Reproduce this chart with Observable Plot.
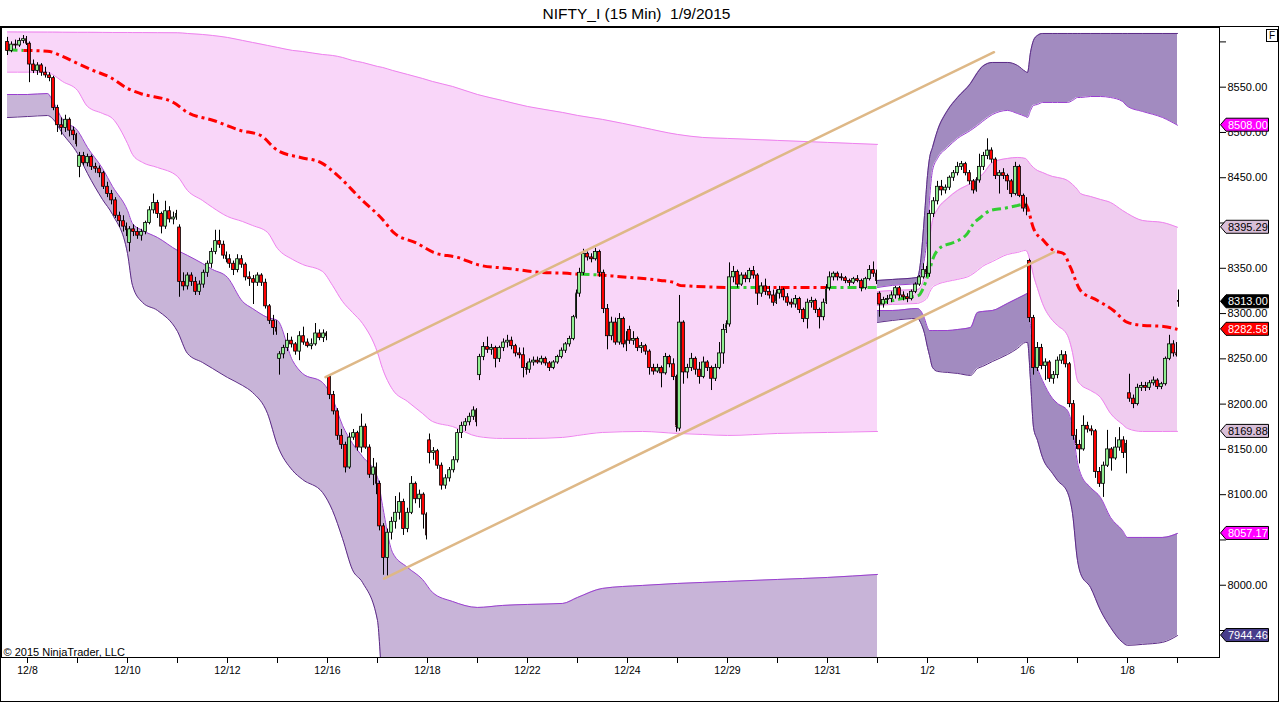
<!DOCTYPE html>
<html><head><meta charset="utf-8">
<script src="https://cdn.jsdelivr.net/npm/d3@7"></script>
<script src="https://cdn.jsdelivr.net/npm/@observablehq/plot@0.6"></script>
<style>
html,body{margin:0;padding:0;background:#fff;}
#wrap{position:relative;width:1280px;height:703px;overflow:hidden;font-family:"Liberation Sans",Arial,sans-serif;}
#chart{position:absolute;left:0;top:0;}
#title{position:absolute;top:6px;left:0;width:1273px;text-align:center;font-size:15.5px;line-height:15.5px;color:#000;white-space:pre;}
#outer{position:absolute;left:0;top:26px;width:1277px;height:674px;border:1px solid #000;pointer-events:none;}
#fbox{position:absolute;left:1266px;top:29px;width:10px;height:11px;border:1px solid #000;background:#fff;font-size:10px;line-height:11px;text-align:center;}
</style></head><body>
<div id="wrap"><div id="chart"></div><div id="outer"></div><div id="title">NIFTY_I (15 Min)  1/9/2015</div><div id="fbox">F</div></div>
<script>
// ---------- 15-min session data (shown as 30-min candles [open, high, low, close]) ----------
const c1205 = [[8600,8605,8585,8590],[8590,8600,8588,8597],[8597,8602,8592,8596],[8596,8604,8594,8601],[8601,8607,8598,8603],[8603,8606,8596,8598]];
const c1208 = [[8598,8600,8555,8575],[8575,8580,8565,8568],[8568,8577,8563,8574],[8574,8576,8562,8566],[8566,8572,8560,8563],[8563,8566,8556,8560],[8560,8562,8524,8527],[8527,8530,8500,8508],[8508,8516,8497,8505],[8505,8519,8500,8514],[8514,8516,8495,8502],[8502,8506,8491,8497],[8497,8499,8484,8487]];
const c1209 = [[8462,8478,8450,8474],[8474,8478,8463,8466],[8466,8476,8462,8473],[8473,8475,8458,8462],[8462,8466,8455,8460],[8460,8463,8450,8455],[8455,8457,8437,8440],[8440,8445,8428,8432],[8432,8436,8420,8425],[8425,8428,8405,8408],[8408,8412,8395,8402],[8402,8408,8390,8396],[8396,8400,8385,8392]];
const c1210 = [[8378,8396,8368,8393],[8393,8398,8385,8390],[8390,8395,8382,8386],[8386,8393,8380,8390],[8390,8402,8387,8400],[8400,8418,8398,8414],[8414,8432,8410,8422],[8422,8425,8405,8410],[8410,8412,8388,8396],[8396,8424,8393,8413],[8413,8418,8400,8404],[8404,8412,8398,8406],[8406,8414,8403,8410]];
const c1211 = [[8395,8398,8318,8335],[8335,8345,8325,8330],[8330,8345,8326,8342],[8342,8345,8330,8335],[8335,8340,8320,8324],[8324,8336,8320,8332],[8332,8348,8328,8345],[8345,8358,8340,8355],[8355,8372,8350,8368],[8368,8392,8365,8380],[8380,8392,8372,8376],[8376,8380,8360,8364],[8364,8368,8356,8360]];
const c1212 = [[8360,8365,8350,8355],[8355,8358,8342,8348],[8348,8365,8345,8360],[8360,8364,8350,8354],[8354,8356,8336,8340],[8340,8346,8330,8338],[8338,8342,8310,8334],[8334,8345,8330,8342],[8342,8344,8330,8334],[8334,8338,8305,8308],[8308,8310,8288,8292],[8292,8298,8276,8284],[8284,8292,8276,8280]];
const c1215 = [[8250,8258,8232,8255],[8255,8265,8250,8262],[8262,8278,8258,8270],[8270,8274,8262,8266],[8266,8268,8254,8258],[8258,8280,8248,8275],[8275,8285,8265,8268],[8268,8272,8262,8264],[8264,8272,8260,8266],[8266,8289,8264,8278],[8278,8282,8270,8273],[8273,8282,8268,8278],[8278,8280,8270,8275]];
const c1216 = [[8230,8231,8205,8210],[8210,8214,8188,8192],[8192,8195,8160,8165],[8165,8172,8150,8155],[8155,8158,8124,8130],[8130,8168,8128,8163],[8163,8172,8160,8168],[8168,8170,8148,8152],[8152,8189,8146,8175],[8175,8178,8150,8152],[8152,8155,8118,8122],[8122,8140,8110,8130],[8130,8135,8100,8112]];
const c1217 = [[8112,8115,8060,8065],[8065,8068,8011,8030],[8030,8062,8010,8058],[8058,8075,8050,8070],[8070,8098,8062,8080],[8080,8102,8072,8092],[8092,8095,8055,8062],[8062,8085,8058,8080],[8080,8120,8078,8112],[8112,8114,8090,8095],[8095,8105,8085,8100],[8100,8102,8062,8078],[8078,8080,8050,8055]];
const c1218 = [[8160,8167,8134,8146],[8146,8152,8138,8148],[8148,8150,8128,8132],[8132,8135,8105,8110],[8110,8122,8106,8118],[8118,8130,8114,8127],[8127,8142,8124,8138],[8138,8172,8135,8168],[8168,8180,8162,8176],[8176,8184,8170,8180],[8180,8190,8176,8186],[8186,8197,8182,8193],[8193,8195,8175,8180]];
const c1219 = [[8232,8255,8226,8252],[8252,8268,8248,8263],[8263,8274,8256,8260],[8260,8266,8254,8262],[8262,8264,8240,8250],[8250,8264,8246,8262],[8262,8272,8258,8268],[8268,8276,8262,8270],[8270,8274,8260,8264],[8264,8266,8252,8256],[8256,8262,8250,8254],[8254,8262,8229,8240],[8240,8245,8232,8238]];
const c1222 = [[8238,8250,8234,8246],[8246,8252,8242,8248],[8248,8252,8244,8246],[8246,8253,8243,8250],[8250,8252,8242,8245],[8245,8247,8236,8240],[8240,8248,8238,8246],[8246,8254,8244,8252],[8252,8262,8250,8259],[8259,8268,8256,8266],[8266,8275,8263,8272],[8272,8298,8270,8296],[8296,8326,8294,8322]];
const c1223 = [[8322,8350,8318,8345],[8345,8371,8342,8366],[8366,8368,8358,8362],[8362,8366,8356,8360],[8360,8372,8358,8368],[8368,8370,8340,8345],[8345,8348,8300,8305],[8305,8310,8260,8275],[8275,8296,8270,8290],[8290,8295,8265,8268],[8268,8300,8265,8294],[8294,8296,8262,8266],[8266,8280,8258,8270]];
const c1224 = [[8282,8286,8266,8270],[8270,8280,8265,8272],[8272,8274,8258,8262],[8262,8268,8256,8264],[8264,8266,8254,8258],[8258,8260,8232,8240],[8240,8244,8232,8236],[8236,8244,8234,8240],[8240,8242,8218,8234],[8234,8256,8232,8252],[8252,8254,8240,8244],[8244,8250,8226,8230],[8230,8232,8169,8175]];
const c1226 = [[8173,8320,8170,8290],[8290,8292,8222,8235],[8235,8244,8228,8240],[8240,8256,8236,8250],[8250,8252,8232,8238],[8238,8246,8222,8230],[8230,8252,8228,8246],[8246,8248,8236,8240],[8240,8242,8215,8228],[8228,8244,8225,8240],[8240,8268,8238,8256],[8256,8288,8244,8282],[8282,8292,8278,8288]];
const c1229 = [[8288,8356,8285,8340],[8340,8352,8334,8346],[8346,8348,8328,8332],[8332,8345,8330,8342],[8342,8345,8334,8338],[8338,8350,8334,8347],[8347,8352,8338,8342],[8342,8344,8309,8322],[8322,8334,8318,8330],[8330,8338,8320,8324],[8324,8330,8316,8320],[8320,8326,8308,8312],[8312,8326,8310,8322]];
const c1230 = [[8322,8330,8316,8326],[8326,8328,8314,8318],[8318,8322,8308,8312],[8312,8316,8306,8310],[8310,8320,8306,8316],[8316,8318,8300,8304],[8304,8306,8290,8294],[8294,8316,8283,8312],[8312,8318,8306,8314],[8314,8316,8300,8304],[8304,8306,8283,8296],[8296,8316,8292,8312],[8312,8332,8310,8328]];
const c1231 = [[8328,8346,8325,8340],[8340,8346,8336,8344],[8344,8346,8336,8340],[8340,8344,8336,8339],[8339,8341,8333,8336],[8336,8338,8330,8334],[8334,8340,8332,8338],[8338,8342,8334,8336],[8336,8338,8324,8328],[8328,8340,8326,8338],[8338,8353,8336,8348],[8348,8357,8340,8344],[8344,8348,8332,8336]];
const c0101 = [[8322,8324,8296,8310],[8310,8318,8306,8315],[8315,8320,8310,8316],[8316,8324,8312,8320],[8320,8330,8316,8328],[8328,8330,8316,8320],[8320,8324,8314,8318],[8318,8322,8312,8316],[8316,8326,8314,8324],[8324,8334,8322,8332],[8332,8342,8330,8340],[8340,8355,8338,8348],[8348,8352,8340,8344]];
const c0102 = [[8344,8414,8340,8410],[8410,8428,8406,8424],[8424,8446,8420,8440],[8440,8447,8430,8436],[8436,8442,8432,8439],[8439,8452,8436,8450],[8450,8458,8446,8455],[8455,8467,8452,8462],[8462,8468,8458,8465],[8465,8467,8452,8455],[8455,8458,8442,8446],[8446,8448,8432,8436],[8436,8450,8434,8447]];
const c0105 = [[8447,8476,8444,8462],[8462,8478,8458,8474],[8474,8493,8470,8480],[8480,8483,8466,8470],[8470,8472,8448,8452],[8452,8458,8432,8455],[8455,8460,8448,8452],[8452,8454,8436,8446],[8446,8448,8428,8432],[8432,8467,8430,8462],[8462,8464,8428,8430],[8430,8432,8412,8416],[8416,8428,8408,8420]];
const c0106 = [[8358,8360,8290,8295],[8295,8298,8232,8240],[8240,8268,8236,8262],[8262,8266,8238,8242],[8242,8250,8226,8246],[8246,8248,8224,8228],[8228,8236,8222,8232],[8232,8252,8228,8248],[8248,8259,8244,8254],[8254,8258,8240,8244],[8244,8246,8196,8200],[8200,8204,8160,8165],[8165,8172,8150,8155]];
const c0107 = [[8155,8160,8134,8150],[8150,8187,8148,8176],[8176,8180,8168,8172],[8172,8176,8165,8170],[8170,8172,8118,8125],[8125,8130,8108,8112],[8112,8136,8097,8132],[8132,8171,8130,8150],[8150,8152,8126,8140],[8140,8163,8138,8152],[8152,8174,8148,8160],[8160,8164,8140,8146],[8146,8160,8123,8156]];
const c0108 = [[8212,8233,8202,8206],[8206,8210,8195,8200],[8200,8222,8198,8218],[8218,8224,8214,8220],[8220,8224,8214,8218],[8218,8226,8215,8223],[8223,8230,8220,8226],[8226,8228,8216,8219],[8219,8224,8216,8222],[8222,8252,8220,8250],[8250,8276,8248,8266],[8266,8270,8252,8256],[8256,8268,8252,8254]];
const c0109 = [[8314,8326,8307,8313]];

// [trading-day index, first 30-min slot, bar minutes, bars]
const sessions = [[-1,7,30,c1205],[0,0,30,c1208],[1,0,30,c1209],[2,0,30,c1210],[3,0,30,c1211],[4,0,30,c1212],[5,0,30,c1215],[6,0,30,c1216],[7,0,30,c1217],[8,0,30,c1218],[9,0,30,c1219],[10,0,30,c1222],[11,0,30,c1223],[12,0,30,c1224],[13,0,30,c1226],[14,0,30,c1229],[15,0,30,c1230],[16,0,30,c1231],[17,0,30,c0101],[18,0,30,c0102],[19,0,30,c0105],[20,0,30,c0106],[21,0,30,c0107],[22,0,30,c0108],[23,0,15,c0109]];

// x-axis tick labels (trading-day index -> label)
const tickDays = [0,2,4,6,8,10,12,14,16,18,20,22];
const tickLabels = ["12/8","12/10","12/12","12/16","12/18","12/22","12/24","12/29","12/31","1/2","1/6","1/8"];
const yTicks = [7950,8000,8050,8100,8150,8200,8250,8300,8350,8400,8450,8500,8550,8600];
const yLabelled = [8000,8100,8150,8200,8250,8300,8350,8450,8500,8550]; // 8400 / 8050 sit under price markers

// ---------- December anchored VWAP bands ----------
const decGrid = [-0.4,0.0,0.4,0.5,0.7,1.0,1.2,1.5,1.7,2.0, 2.1,2.3,2.6,3.0,3.2,3.5,3.7,4.0,4.3,4.5, 4.8,5.0,5.3,5.5,5.9,6.1,6.3,6.5,6.7,7.0, 7.1,7.3,7.6,7.9,8.1,8.5,9.0,9.5,10.0,10.7, 11.0,11.5,12.3,13.0,13.5,14.0,15.0,16.0,17.0];
const decPinkTop = [8611.0,8610.9,8610.8,8610.8,8610.7,8610.6,8610.6,8610.5,8610.4,8610.4, 8610.3,8610.3,8610.2,8610.1,8609.3,8608.2,8607.1,8604.9,8601.6,8599.4, 8596.1,8593.9,8590.6,8589.4,8586.1,8585.0,8582.8,8579.5,8577.3,8572.9, 8571.8,8568.5,8564.1,8559.6,8556.3,8550.8,8541.9,8535.3,8528.7,8522.1, 8518.8,8514.4,8505.5,8497.8,8494.5,8493.4,8491.2,8489.0,8486.8];
const decPinkBot = [8566.6,8566.6,8566.6,8564.0,8556.3,8546.4,8528.7,8521.0,8515.4,8487.8, 8475.7,8466.9,8461.3,8451.4,8435.9,8424.9,8417.2,8407.2,8401.7,8397.3, 8389.6,8371.9,8359.8,8354.3,8346.5,8331.1,8313.4,8301.2,8289.1,8257.0, 8239.4,8216.2,8202.9,8189.7,8180.8,8175.3,8164.3,8162.1,8162.1,8163.2, 8165.4,8168.7,8169.8,8167.6,8166.5,8165.4,8167.6,8168.7,8169.8];
const decPurpTop = [8541.9,8541.9,8543.0,8535.3,8514.3,8502.2,8483.4,8460.2,8440.4,8413.9, 8399.5,8391.8,8384.0,8369.7,8364.2,8355.3,8348.7,8339.9,8313.4,8305.6, 8295.7,8292.4,8248.2,8233.9,8223.9,8206.3,8176.5,8156.6,8142.2,8119.0, 8088.1,8036.2,8019.7,8006.4,7992.1,7982.1,7975.5,7977.7,7978.8,7979.9, 7986.5,7996.5,7999.8,8002.0,8003.1,8004.2,8006.4,8008.6,8011.9];
const decPurpBot = [8516.5,8517.6,8518.7,8515.4,8498.9,8476.8,8454.7,8426.0,8409.4,8366.4, 8331.1,8312.3,8303.4,8280.2,8255.9,8246.0,8239.4,8229.4,8220.6,8212.9, 8189.7,8154.4,8126.8,8116.8,8102.5,8082.6,8051.7,8017.0,8003.1,7961.1, 7894.9,7872.8,7828.7,7795.5,7790,7785,7782,7780,7780,7782, 7785,7788,7790,7792,7794,7796,7800,7804,7808];

// ---------- January anchored VWAP bands ----------
const janGrid = [17.0,17.3,17.8,17.86,17.94,18.0,18.04,18.1,18.2,18.4, 18.6,18.86,19.0,19.1,19.3,19.6,19.8,19.96,20.0,20.06, 20.12,20.2,20.3,20.5,20.6,20.8,20.9,21.0,21.06,21.26, 21.46,21.66,21.9,22.0,22.3,22.7,23.0];
const janUpTop = [8336.6,8337.7,8339.9,8356.4,8408.3,8452.5,8471.3,8483.4,8502.2,8524.3, 8538.6,8554.1,8566.2,8572.9,8577.3,8577.3,8574.0,8567.3,8566.2,8588.3, 8601.6,8607.1,8609.3,8609.3,8609.3,8609.3,8609.3,8609.3,8609.3,8609.3, 8609.3,8609.3,8609.3,8609.3,8609.3,8609.3,8609.3];
const janUpBot = [8328.8,8331.1,8333.3,8344.3,8360.9,8389.6,8424.9,8458.0,8471.3,8483.4, 8493.4,8502.2,8507.7,8512.1,8519.8,8524.3,8520.9,8517.6,8516.5,8524.3, 8529.8,8530.9,8533.1,8533.1,8533.1,8533.1,8535.3,8538.6,8538.6,8539.7, 8539.7,8538.6,8534.2,8528.7,8523.2,8516.5,8508.0];
const janPinkTop = [8324.4,8325.5,8326.6,8328.8,8342.1,8358.6,8380.7,8402.8,8415.0,8427.1, 8435.9,8443.7,8449.2,8453.6,8466.9,8471.3,8472.4,8471.3,8469.1,8464.7, 8461.3,8458.0,8455.8,8451.4,8450.3,8447.0,8442.6,8437.0,8432.6,8429.3, 8426.0,8422.7,8413.9,8410.5,8402.8,8400.6,8395.29];
const janPinkBot = [8309.0,8310.1,8311.2,8312.3,8314.5,8317.8,8323.3,8328.8,8332.2,8335.5, 8337.7,8342.1,8347.6,8352.0,8357.5,8365.3,8367.5,8369.7,8367.5,8356.4, 8342.1,8327.7,8311.2,8292.4,8286.9,8275.8,8257.0,8226.1,8221.7,8215.1, 8207.4,8189.7,8177.6,8173.1,8169.8,8169.8,8169.88];
const janLowTop = [8303.4,8303.4,8305.6,8303.4,8294.6,8284.6,8281.3,8281.3,8281.3,8281.3, 8282.4,8284.6,8301.2,8302.3,8303.4,8311.2,8316.7,8321.1,8322.2,8286.9, 8253.7,8239.4,8226.1,8206.3,8200.8,8193.0,8174.3,8135.6,8123.5,8108.0, 8097.0,8074.9,8060.5,8052.8,8052.8,8052.8,8057.17];
const janLowBot = [8290.2,8292.4,8294.6,8290.2,8278.0,8262.6,8253.7,8240.5,8236.1,8235.0, 8233.9,8231.7,8239.4,8241.6,8247.1,8254.8,8261.5,8268.1,8268.1,8226.1, 8174.3,8159.9,8141.1,8123.5,8115.7,8102.5,8079.3,8027.4,8013.0,7997.6, 7972.2,7953.4,7936.9,7933.6,7934.7,7936.9,7944.46];

// ---------- VWAP lines ----------
const decVwapD = [-0.38,-0.08,0.4,0.66,1.0,1.32,1.66,2.0,2.26,2.92,3.2,3.72,4.26,4.66,5.0,5.46,5.86,6.2,6.66,7.12,7.32,7.8,8.12,8.6,9.06,9.6,10.26,10.8,11.06,11.4,12.0,12.66,12.92,13.06,14.06,14.66,16.0,16.98];
const decVwapV = [8591.3,8590.6,8589.8,8585.0,8576.2,8568.4,8560.7,8548.6,8543.0,8533.1,8522.1,8513.2,8502.2,8496.7,8480.1,8472.4,8466.9,8452.6,8427.0,8402.8,8389.6,8377.4,8367.5,8362.0,8353.2,8349.9,8345.5,8344.4,8343.3,8342.8,8340.1,8336.6,8334.4,8331.1,8328.8,8328.8,8328.8,8328.8];
const janVwapD = [17.02,17.32,17.6,17.82,17.92,18.02,18.12,18.26,18.52,18.8,18.92,19.06,19.26,19.52,19.8,19.96,20.0,20.12,20.32,20.52,20.72,20.86,21.06,21.4,21.72,22.0,22.32,22.72,23.0];
const janVwapV = [8311.2,8314.5,8317.8,8320.0,8328.8,8344.3,8362.0,8373.0,8378.5,8388.5,8399.5,8406.1,8413.9,8416.1,8419.4,8421.6,8417.2,8394.0,8380.7,8369.7,8366.4,8350.9,8325.5,8314.5,8303.4,8290.2,8286.9,8285.8,8282.58];
const vwapGreen = [[-0.4,-0.08],[11.06,11.4],[14.06,14.66],[16.0,17.0],[17.0,19.96]];

// ---------- drawn trend lines ----------
const trendUpper = [[5.96,8229.8],[19.33,8588.6]];
const trendLower = [[7.13,8007.2],[20.53,8367.8]];

// ---------- right-edge price markers ----------
const flagValues = [8508.00,8395.29,8313.00,8282.58,8169.88,8057.17,7944.46];
const flagFills = ["#ff00ff","#d8bfd8","#000000","#ff0000","#d8bfd8","#ff00ff","#483d8b"];
const flagInk = ["#ffffff","#000000","#ffffff","#ffffff","#000000","#ffffff","#ffffff"];

// ---------- build tables ----------
const candles = [];
for (const [day, slot0, mins, bars] of sessions) {
  bars.forEach(([o,h,l,c], k) => {
    const t0 = (slot0 + k) * 30, t1 = Math.min(t0 + mins, 375);
    const x1 = day + t0/375, x2 = day + t1/375;
    candles.push({x1, x2, xm: (x1 + x2)/2, o, h, l, c});
  });
}
const decBand = decGrid.map((d,i) => ({d, pt: decPinkTop[i], pb: decPinkBot[i], ut: decPurpTop[i], ub: decPurpBot[i]}));
const janBand = janGrid.map((d,i) => ({d, ut: janUpTop[i], ub: janUpBot[i], pt: janPinkTop[i], pb: janPinkBot[i], lt: janLowTop[i], lb: janLowBot[i]}));

function vwapRuns(ds, vs, id) {
  const rows = []; let run = 0, prev = null;
  for (let i = 0; i < ds.length - 1; i++) {
    const mid = (ds[i] + ds[i+1]) / 2;
    const g = vwapGreen.some(([a,b]) => mid >= a && mid <= b);
    if (g !== prev) { run++; rows.push({d: ds[i], v: vs[i], z: id + run, g}); prev = g; }
    rows.push({d: ds[i+1], v: vs[i+1], z: id + run, g});
  }
  return rows;
}
const vwapRows = vwapRuns(decVwapD, decVwapV, "dec").concat(vwapRuns(janVwapD, janVwapV, "jan"));
const trendRows = trendUpper.map(([d,v]) => ({d, v, z: "a"})).concat(trendLower.map(([d,v]) => ({d, v, z: "b"})));
const labelMap = new Map(tickDays.map((d,i) => [d, tickLabels[i]]));

const PINK_D = "#f9d6f9", PINK_J = "#f0ccf0", PURP_D = "#c8b4d8", PURP_J = "#a28bc0";
const EDGE_P = "#ee82ee", EDGE_IN = "#9a3fd0", EDGE_OUT = "#5b2a86";
const C = "monotone-x";

const plot = Plot.plot({
  width: 1280, height: 703,
  marginTop: 27, marginBottom: 46, marginLeft: 1, marginRight: 61,
  style: {fontFamily: "'Liberation Sans', Arial, sans-serif", background: "transparent"},
  x: {type: "linear", domain: [-0.52, 23.84], label: null},
  y: {domain: [7920.2, 8615.9], label: null},
  color: {type: "identity"},
  marks: [
    // December bands
    Plot.areaY(decBand, {x: "d", y1: "pb", y2: "pt", fill: PINK_D, curve: C, clip: true}),
    Plot.areaY(decBand, {x: "d", y1: "ub", y2: "ut", fill: PURP_D, curve: C, clip: true}),
    Plot.line(decBand, {x: "d", y: "pt", stroke: EDGE_P, strokeWidth: 1, curve: C, clip: true}),
    Plot.line(decBand, {x: "d", y: "pb", stroke: EDGE_P, strokeWidth: 1, curve: C, clip: true}),
    Plot.line(decBand, {x: "d", y: "ut", stroke: EDGE_IN, strokeWidth: 1, curve: C, clip: true}),
    Plot.line(decBand, {x: "d", y: "ub", stroke: EDGE_OUT, strokeWidth: 1, curve: C, clip: true}),
    // January bands
    Plot.areaY(janBand, {x: "d", y1: "pb", y2: "pt", fill: PINK_J, curve: C, clip: true}),
    Plot.areaY(janBand, {x: "d", y1: "ub", y2: "ut", fill: PURP_J, curve: C, clip: true}),
    Plot.areaY(janBand, {x: "d", y1: "lb", y2: "lt", fill: PURP_J, curve: C, clip: true}),
    Plot.line(janBand, {x: "d", y: "pt", stroke: EDGE_P, strokeWidth: 1, curve: C, clip: true}),
    Plot.line(janBand, {x: "d", y: "pb", stroke: EDGE_P, strokeWidth: 1, curve: C, clip: true}),
    Plot.line(janBand, {x: "d", y: "ut", stroke: EDGE_OUT, strokeWidth: 1, curve: C, clip: true}),
    Plot.line(janBand, {x: "d", y: "ub", stroke: EDGE_IN, strokeWidth: 1, curve: C, clip: true}),
    Plot.line(janBand, {x: "d", y: "lt", stroke: EDGE_IN, strokeWidth: 1, curve: C, clip: true}),
    Plot.line(janBand, {x: "d", y: "lb", stroke: EDGE_OUT, strokeWidth: 1, curve: C, clip: true}),
    // VWAP (dash-dot)
    Plot.line(vwapRows, {x: "d", y: "v", z: "z", stroke: r => r.g ? "#32cd32" : "#ff0000", strokeWidth: 3, strokeDasharray: "9,4,3,4", strokeLinecap: "butt", strokeLinejoin: "miter", curve: C, clip: true}),
    // candles
    Plot.ruleX(candles, {x: "xm", y1: "l", y2: "h", stroke: "#000", strokeWidth: 1, clip: true}),
    Plot.rect(candles, {x1: "x1", x2: "x2", y1: "o", y2: "c", fill: r => r.c >= r.o ? "#90ee90" : "#ff0000", stroke: "#000", strokeWidth: 0.8, insetLeft: 0.6, insetRight: 0.6, clip: true}),
    // trend lines
    Plot.line(trendRows, {x: "d", y: "v", z: "z", stroke: "#deb887", strokeWidth: 2.5, clip: true}),
    // axes
    Plot.axisX({anchor: "bottom", ticks: d3.range(0, 24), tickFormat: t => labelMap.get(t) ?? "", tickSize: 6, tickPadding: 3, fontSize: 10.5}),
    Plot.axisY({anchor: "right", ticks: yTicks, tickFormat: v => yLabelled.includes(v) ? v.toFixed(2) : "", tickSize: 6, tickPadding: 2, fontSize: 11}),
    Plot.frame({stroke: "#000"}),
    Plot.text(["© 2015 NinjaTrader, LLC"], {frameAnchor: "bottom-left", dx: 2, dy: -2, textAnchor: "start", lineAnchor: "bottom", fontSize: 11, fill: "#000"})
  ]
});

// price markers on the right axis, positioned with Plot's own y scale
const ys = plot.scale("y");
const g = d3.select(plot).append("g").attr("text-anchor", "start");
flagValues.forEach((v, i) => {
  const y = ys.apply(v);
  g.append("path").attr("d", `M1220.5,${y} L1226,${y-6.5} H1268.5 V${y+6.5} H1226 Z`)
    .attr("fill", flagFills[i]).attr("stroke", "#000").attr("stroke-width", 1);
  g.append("text").attr("x", 1228).attr("y", y).attr("dy", "0.36em").attr("fill", flagInk[i])
    .attr("text-anchor", "start").attr("font-size", 11)
    .attr("font-family", "'Liberation Sans', Arial, sans-serif").text(v.toFixed(2));
});
document.getElementById("chart").appendChild(plot);
</script>
</body></html>
